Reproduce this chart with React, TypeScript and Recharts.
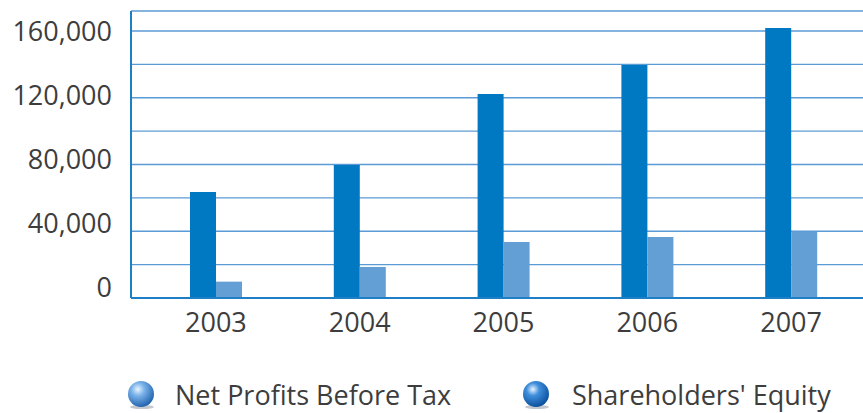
import React from 'react';
import { BarChart, Bar, XAxis, YAxis, CartesianGrid, Legend } from 'recharts';

const years = ['2003', '2004', '2005', '2006', '2007'];
const netProfits = [63500, 79700, 122200, 139600, 161800];
const equity = [9800, 18600, 33500, 36600, 39500];
const yTicks = [0, 20000, 40000, 60000, 80000, 100000, 120000, 140000, 160000];
const labelledTicks = [0, 40000, 80000, 120000, 160000];
const seriesNames = ['Net Profits Before Tax', "Shareholders' Equity"];

const data = years.map((y, i) => ({ year: y, profit: netProfits[i], equity: equity[i] }));

const FONT = '"Open Sans", "Noto Sans", sans-serif';
const TEXT = '#3d3d3d';

const YTick = (props: any) => {
  const { x, y, payload } = props;
  const v = payload.value as number;
  if (!labelledTicks.includes(v)) return null;
  const shift = -11 * (1 - v / 160000);
  return (
    <text x={x} y={y + shift} dy="0.36em" textAnchor="end" fontSize={27} fill={TEXT} fontFamily={FONT}>
      {v.toLocaleString('en-US')}
    </text>
  );
};

const XTick = (props: any) => {
  const { x, y, payload } = props;
  return (
    <text x={x} y={y} dy={26} textAnchor="middle" fontSize={27} fill={TEXT} fontFamily={FONT}>
      {payload.value}
    </text>
  );
};

const Sphere = ({ id, dark }: { id: string; dark: boolean }) => (
  <svg width={30} height={30} style={{ display: 'block' }}>
    <defs>
      <radialGradient id={id} cx="38%" cy="32%" r="70%">
        <stop offset="0%" stopColor="#eaf4ff" />
        <stop offset="35%" stopColor={dark ? '#3f8fdc' : '#7cb4ea'} />
        <stop offset="100%" stopColor={dark ? '#0b4f9c' : '#1f62ad'} />
      </radialGradient>
    </defs>
    <ellipse cx={16} cy={27} rx={12} ry={2} fill="#9aa3ad" opacity={0.6} />
    <circle cx={15} cy={14} r={13} fill={`url(#${id})`} />
  </svg>
);

const LegendContent = () => (
  <div style={{ position: 'relative', width: 863, height: 43, fontFamily: FONT }}>
    <div style={{ position: 'absolute', left: 126, top: 10 }}>
      <Sphere id="g1" dark={false} />
    </div>
    <div style={{ position: 'absolute', left: 175, top: 8, fontSize: 27, color: TEXT, whiteSpace: 'nowrap', lineHeight: '34px' }}>
      {seriesNames[0]}
    </div>
    <div style={{ position: 'absolute', left: 521, top: 10 }}>
      <Sphere id="g2" dark={true} />
    </div>
    <div style={{ position: 'absolute', left: 572, top: 8, fontSize: 27, color: TEXT, whiteSpace: 'nowrap', lineHeight: '34px' }}>
      {seriesNames[1]}
    </div>
  </div>
);

export default function App() {
  return (
    <div style={{ position: 'absolute', left: 0, top: 0, width: 863, height: 413, background: '#fff', overflow: 'hidden' }}>
      <BarChart
        width={863}
        height={413}
        data={data}
        margin={{ top: 11, right: 0, bottom: 0, left: 0 }}
        barGap={0}
        barSize={26}
      >
        <CartesianGrid horizontal vertical={false} stroke="#5b9bd5" strokeWidth={1.3} />
        <XAxis
          dataKey="year"
          height={72}
          padding={{ left: 13, right: 0 }}
          tickLine={false}
          axisLine={{ stroke: '#1f7fc6', strokeWidth: 2 }}
          tick={<XTick />}
          interval={0}
        />
        <YAxis
          width={131}
          domain={[0, 172000]}
          ticks={yTicks}
          tickLine={false}
          tickMargin={13}
          axisLine={{ stroke: '#1f7fc6', strokeWidth: 2 }}
          tick={<YTick />}
          allowDataOverflow
        />
        <Legend verticalAlign="bottom" height={43} content={<LegendContent />} wrapperStyle={{ left: 0, bottom: 0, width: 863 }} />
        <Bar dataKey="profit" name={seriesNames[0]} fill="#0079c2" isAnimationActive={false} />
        <Bar dataKey="equity" name={seriesNames[1]} fill="#639fd4" isAnimationActive={false} />
      </BarChart>
    </div>
  );
}
